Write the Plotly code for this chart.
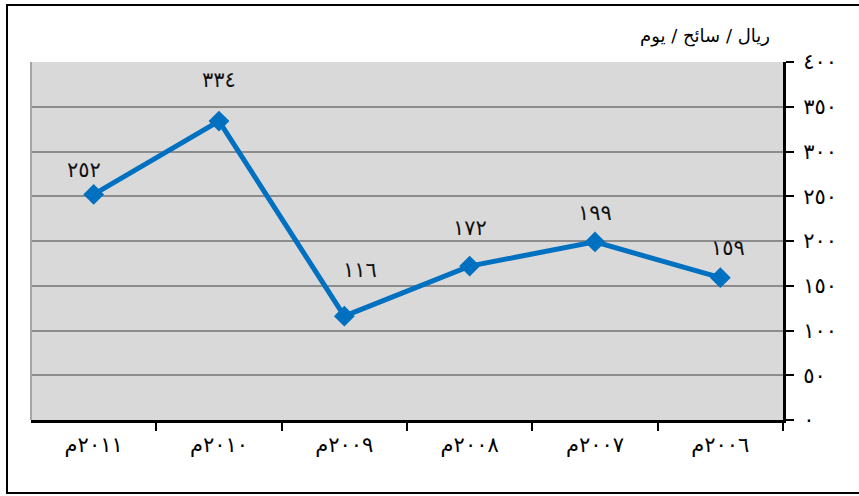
import plotly.graph_objects as go

years = ["٢٠٠٦م", "٢٠٠٧م", "٢٠٠٨م", "٢٠٠٩م", "٢٠١٠م", "٢٠١١م"]
values = [159, 199, 172, 116, 334, 252]
value_labels = ["١٥٩", "١٩٩", "١٧٢", "١١٦", "٣٣٤", "٢٥٢"]
y_tickvals = [0, 50, 100, 150, 200, 250, 300, 350, 400]
y_ticktext = ["٠", "٥٠", "١٠٠", "١٥٠", "٢٠٠", "٢٥٠", "٣٠٠", "٣٥٠", "٤٠٠"]
unit_title = "ريال / سائح / يوم"

# label offsets in pixels (style only)
label_dx = [8, 0, 0, 16, 0, -10]
label_dy = [-30, -29, -38, -46, -41, -24]

FONT = "DejaVu Sans"
BLUE = "#0070C0"

fig = go.Figure()
fig.add_trace(go.Scatter(
    x=years, y=values, mode="lines+markers",
    line=dict(color=BLUE, width=5),
    marker=dict(symbol="diamond", size=16, color=BLUE),
    hoverinfo="skip", showlegend=False,
))

for x, y, t, dx, dy in zip(years, values, value_labels, label_dx, label_dy):
    fig.add_annotation(x=x, y=y, text=t, showarrow=True, arrowcolor="rgba(0,0,0,0)",
                       ax=dx, ay=dy, font=dict(family=FONT, size=21, color="#111111"))

fig.add_annotation(xref="paper", yref="paper", x=0.985, y=1.035, xanchor="right",
                   yanchor="bottom", text=unit_title, showarrow=False,
                   font=dict(family=FONT, size=18, color="black"))

# outer frame and left plot edge
fig.add_shape(type="rect", xref="paper", yref="paper", x0=-0.0319, x1=1.2, y0=-0.2039, y1=1.1592,
              line=dict(color="black", width=2), layer="below")
fig.add_shape(type="line", xref="paper", yref="paper", x0=0, x1=0, y0=0, y1=1,
              line=dict(color="#a6a6a6", width=2))

fig.update_layout(
    width=859, height=496,
    margin=dict(l=31, r=76, t=62, b=76, autoexpand=False),
    paper_bgcolor="white", plot_bgcolor="#d9d9d9",
    font=dict(family=FONT, color="black"),
)
fig.update_xaxes(
    type="category", range=[5.5, -0.5], automargin=False, tickangle=0,
    showline=True, linecolor="black", linewidth=3,
    ticks="outside", tickson="boundaries", ticklen=8, tickwidth=2, tickcolor="black",
    showgrid=False, tickfont=dict(family=FONT, size=21), ticklabelstandoff=4,
)
fig.update_yaxes(
    side="right", range=[0, 400], tickvals=y_tickvals, ticktext=y_ticktext, automargin=False,
    showline=True, linecolor="black", linewidth=3,
    ticks="outside", ticklen=8, tickwidth=2, tickcolor="black",
    showgrid=True, gridcolor="#8c8c8c", gridwidth=2, zeroline=False,
    tickfont=dict(family=FONT, size=21), ticklabelstandoff=5,
)

fig.write_html("out.html", config={"displayModeBar": False},
               post_script="document.body.style.margin='0';")
